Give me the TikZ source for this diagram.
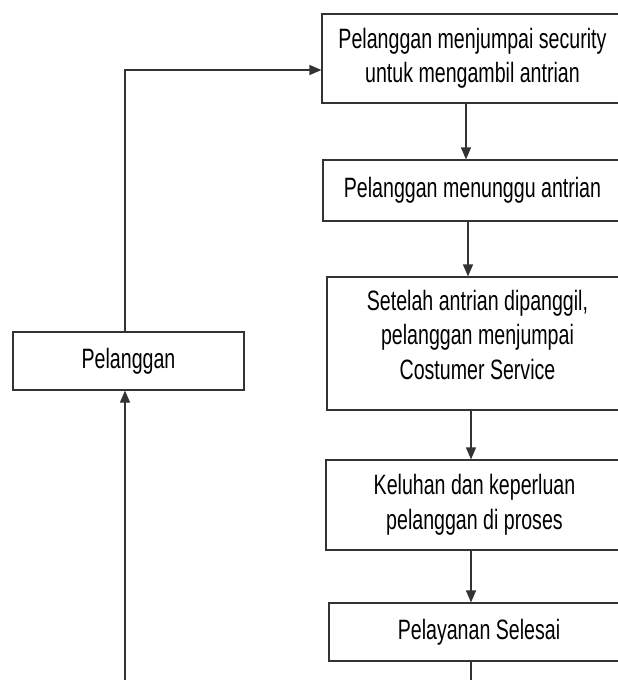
\documentclass[tikz,border=0pt]{standalone}
\usepackage{fontspec}
\setmainfont[FakeStretch=0.70]{Liberation Sans}
\usetikzlibrary{arrows.meta}
\begin{document}
\begin{tikzpicture}[x=1pt,y=-1pt,
  box/.style={draw=black!80,line width=1.2pt,rectangle,align=center,inner sep=0pt,
    font=\fontsize{28}{34.5}\selectfont,text=black},
  arr/.style={draw=black!80,line width=1.2pt,-{Triangle[length=12pt,width=10pt]}},
  ln/.style={draw=black!80,line width=1.2pt}]
\useasboundingbox (0,0) rectangle (618,680);
\clip (0,0) rectangle (618,680);
\node[box,minimum width=301pt,minimum height=89pt] (b1) at (472.5,58.5) {Pelanggan menjumpai security\\untuk mengambil antrian};
\node[box,minimum width=299pt,minimum height=61pt] (b2) at (472.5,190.5) {Pelanggan menunggu antrian};
\node[box,minimum width=301pt,minimum height=133pt] (b3) at (477.5,343.5) {\raisebox{0pt}[\height][\dimexpr\depth+11pt\relax]{\begin{tabular}{@{}c@{}}Setelah antrian dipanggil,\\pelanggan menjumpai\\Costumer Service\end{tabular}}};
\node[box,minimum width=297pt,minimum height=90pt] (b4) at (474.5,505) {Keluhan dan keperluan\\pelanggan di proses};
\node[box,minimum width=300pt,minimum height=58pt] (b5) at (479,632) {Pelayanan Selesai};
\node[box,minimum width=231pt,minimum height=58pt] (pel) at (128.5,361) {Pelanggan};
\coordinate (bl) at (125,690);
\coordinate (br) at (471,690);
\draw[arr] ([xshift=-6.5pt]b1.south) -- ([xshift=-6.5pt]b1.south |- b2.north);
\draw[arr] ([xshift=-4.5pt]b2.south) -- ([xshift=-4.5pt]b2.south |- b3.north);
\draw[arr] ([xshift=-6.5pt]b3.south) -- ([xshift=-6.5pt]b3.south |- b4.north);
\draw[arr] ([xshift=-3.5pt]b4.south) -- ([xshift=-3.5pt]b4.south |- b5.north);
\draw[ln] (b5.south -| br) -- (br);
\draw[arr] (bl) -- ([xshift=-3.5pt]pel.south);
\draw[arr] ([xshift=-3.5pt]pel.north) |- ([yshift=-11.5pt]b1.west);
\end{tikzpicture}
\end{document}
